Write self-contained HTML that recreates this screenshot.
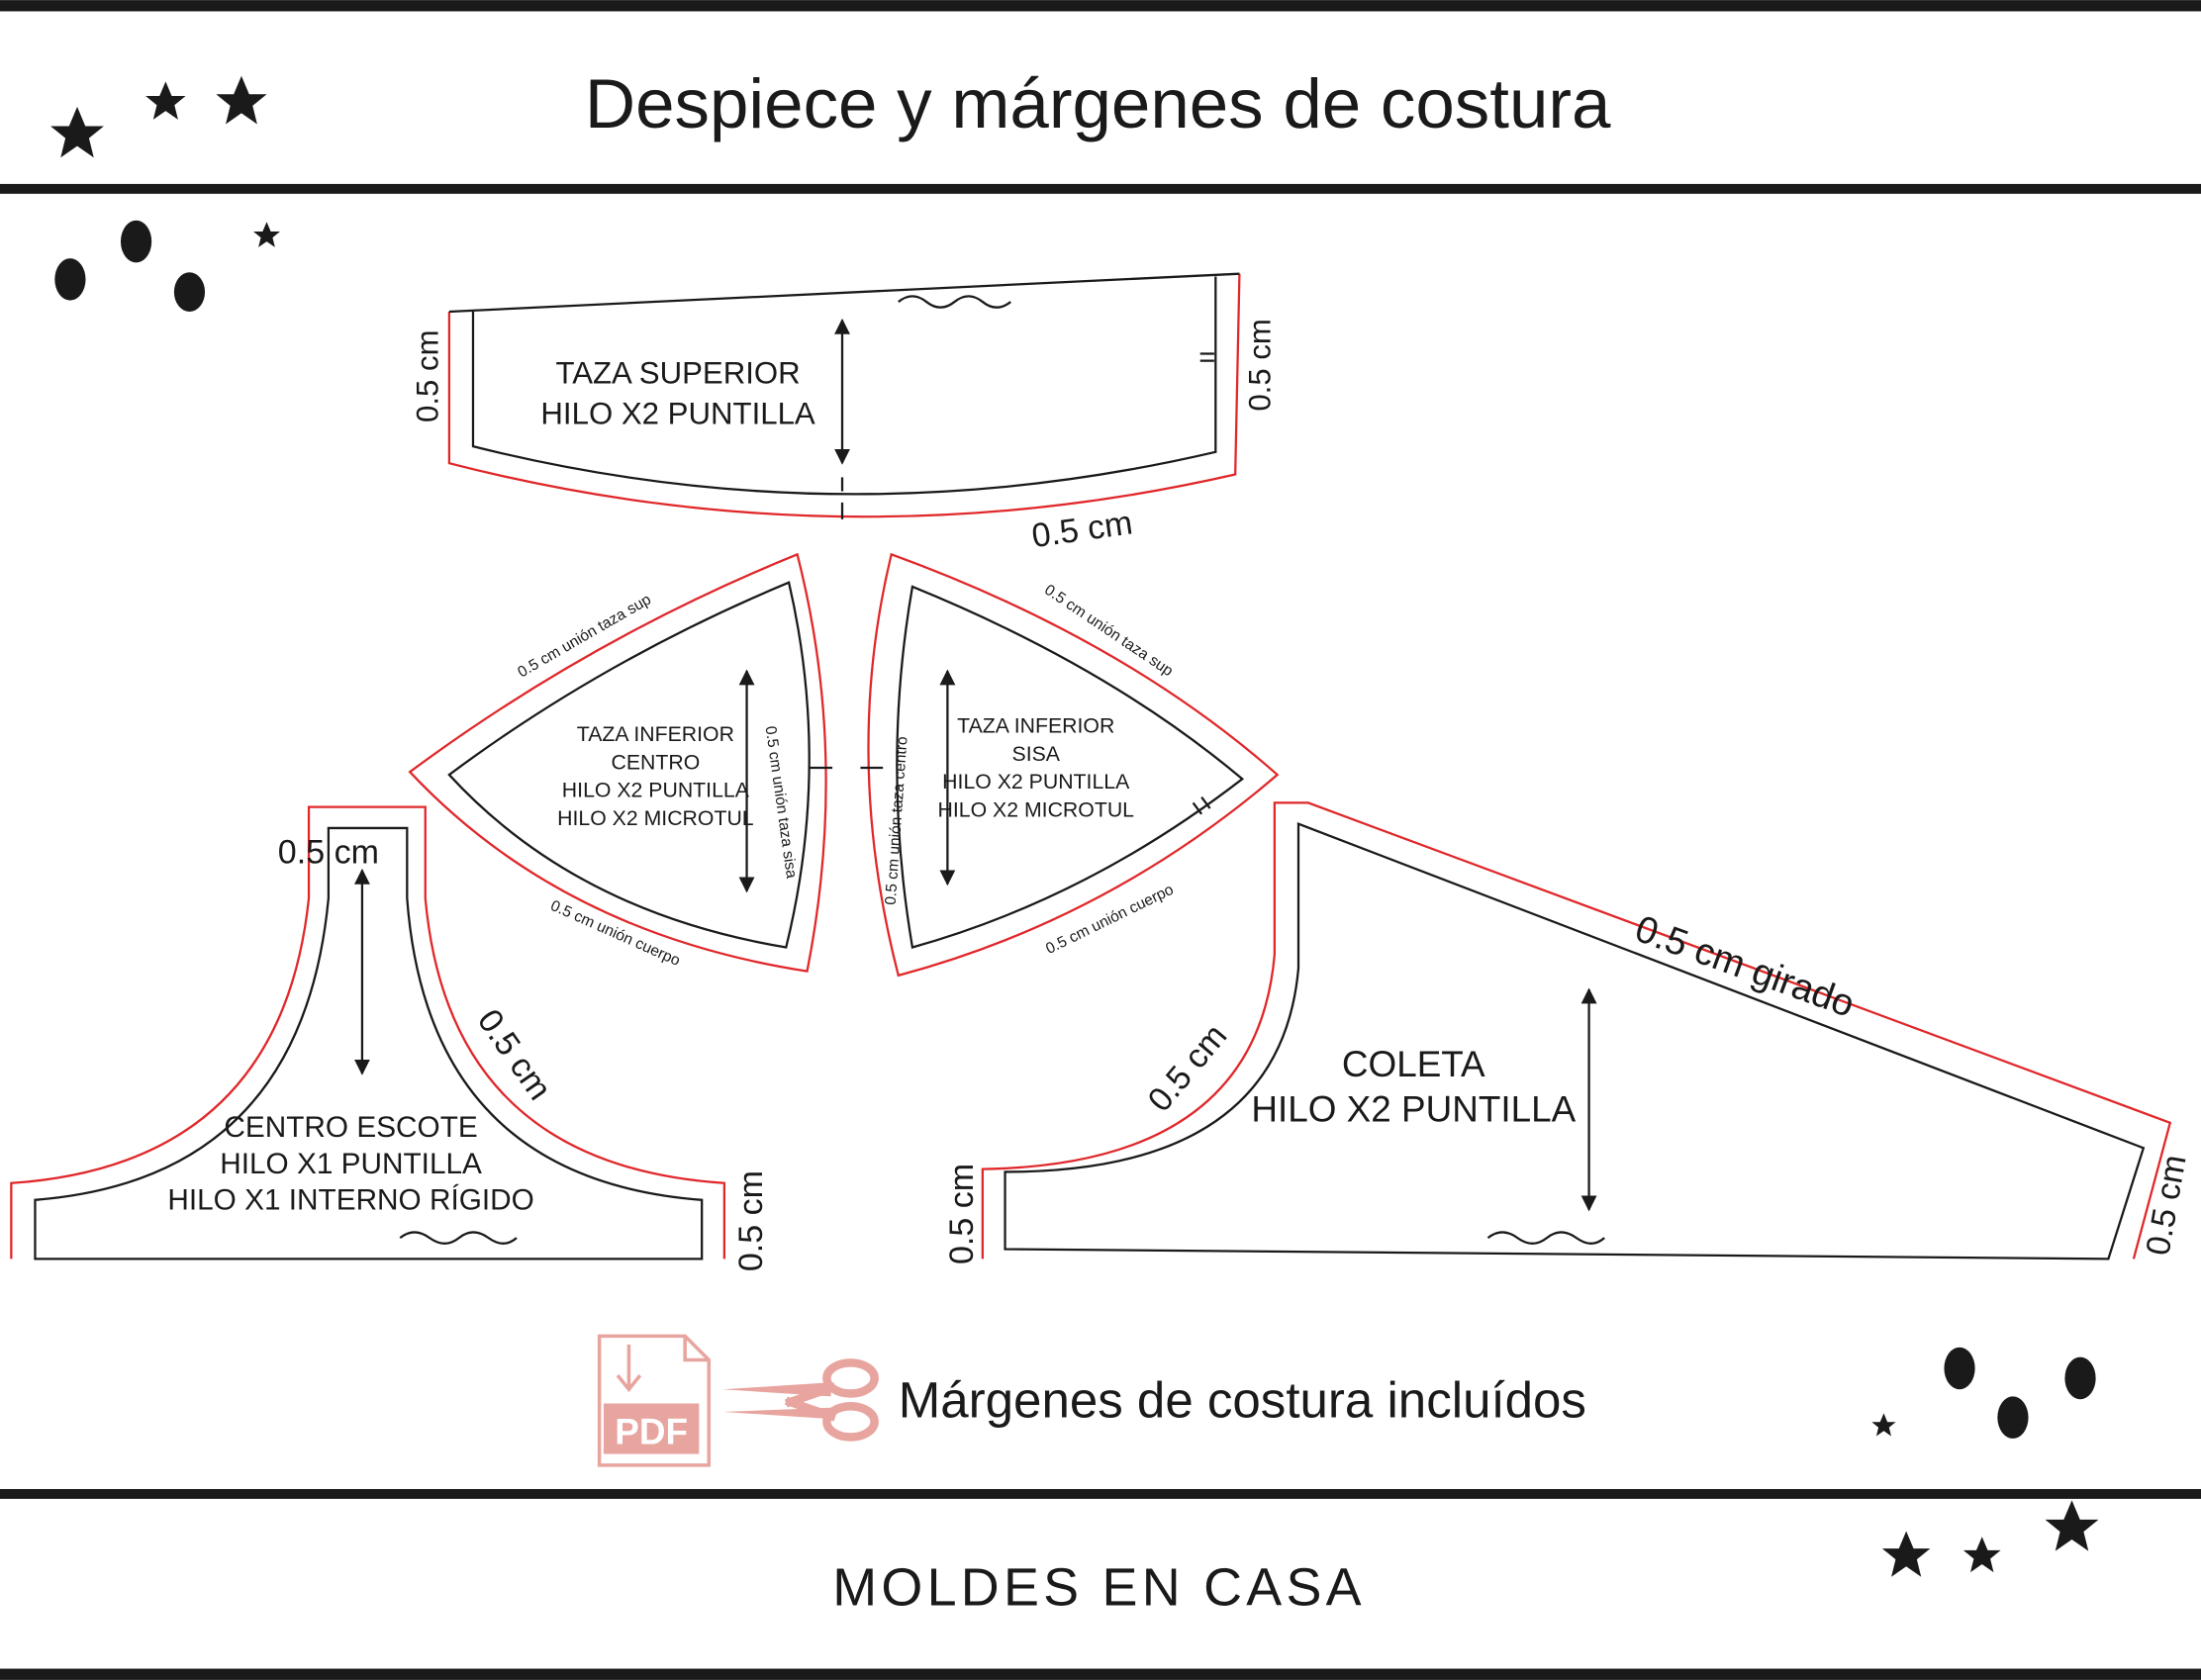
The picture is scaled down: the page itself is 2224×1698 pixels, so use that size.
<!DOCTYPE html>
<html><head><meta charset="utf-8"><style>
html,body{margin:0;padding:0;background:#fff}
svg{display:block}
text{font-family:"Liberation Sans","DejaVu Sans",sans-serif;fill:#1a1a1a}
</style></head><body>
<svg width="2224" height="1698" viewBox="0 0 1568 1197" xmlns="http://www.w3.org/2000/svg">
<defs>
<marker id="ar" viewBox="0 0 10 10" refX="9" refY="5" markerWidth="7" markerHeight="7" orient="auto-start-reverse"><path d="M0,0 L10,5 L0,10 z" fill="#1a1a1a"/></marker>
<path id="st" d="M0,-10 L2.9,-3.1 L9.5,-3.1 L4.2,1.2 L5.9,8.1 L0,4 L-5.9,8.1 L-4.2,1.2 L-9.5,-3.1 L-2.9,-3.1 Z" fill="#1a1a1a"/>
</defs>
<rect x="0" y="0" width="1568" height="8" fill="#1a1a1a"/>
<rect x="0" y="131" width="1568" height="7" fill="#1a1a1a"/>
<rect x="0" y="1061" width="1568" height="7" fill="#1a1a1a"/>
<rect x="0" y="1189" width="1568" height="8" fill="#1a1a1a"/>
<text x="782" y="91" font-size="50" text-anchor="middle">Despiece y márgenes de costura</text>
<use href="#st" transform="translate(55,96) scale(2)"/>
<use href="#st" transform="translate(118,73) scale(1.5)"/>
<use href="#st" transform="translate(172,73) scale(1.9)"/>
<use href="#st" transform="translate(190,168) scale(1)"/>
<ellipse cx="50" cy="199" rx="11" ry="15" fill="#1a1a1a"/>
<ellipse cx="97" cy="172" rx="11" ry="15" fill="#1a1a1a"/>
<ellipse cx="135" cy="208" rx="11" ry="14" fill="#1a1a1a"/>
<ellipse cx="1396" cy="975" rx="11" ry="15" fill="#1a1a1a"/>
<ellipse cx="1434" cy="1010" rx="11" ry="15" fill="#1a1a1a"/>
<ellipse cx="1482" cy="982" rx="11" ry="15" fill="#1a1a1a"/>
<use href="#st" transform="translate(1342,1016) scale(0.9)"/>
<use href="#st" transform="translate(1358,1109) scale(1.8)"/>
<use href="#st" transform="translate(1412,1109) scale(1.4)"/>
<use href="#st" transform="translate(1476,1089) scale(2)"/>

<g fill="none" stroke-width="1.6">
<!-- Taza superior -->
<path d="M320,222 L320,330 Q600,402 880,338 L883,195" stroke="#e0272a"/>
<path d="M320,222 L883,195" stroke="#1a1a1a"/>
<path d="M337,222 L337,318 Q600,384 866,322 L866,197" stroke="#1a1a1a"/>
<path d="M600,228 L600,330" stroke="#1a1a1a" marker-start="url(#ar)" marker-end="url(#ar)"/>
<path d="M640,215 q10,-8 20,0 t20,0 t20,0 t20,0" stroke="#1a1a1a"/>
<path d="M855,252 h10 M855,257 h10" stroke="#1a1a1a"/>
<path d="M600,340 v10 M600,358 v12" stroke="#1a1a1a"/>
<!-- Left triangle -->
<path d="M292,550 Q420,455 568,395 Q605,540 575,692 Q400,665 292,550 Z" stroke="#e0272a"/>
<path d="M320,552 Q430,470 562,415 Q592,545 560,675 Q410,650 320,552 Z" stroke="#1a1a1a"/>
<path d="M532,478 L532,635" stroke="#1a1a1a" marker-start="url(#ar)" marker-end="url(#ar)"/>
<path d="M577,547 h16" stroke="#1a1a1a"/>
<!-- Right triangle -->
<path d="M635,395 Q800,455 910,552 Q790,655 640,695 Q600,540 635,395 Z" stroke="#e0272a"/>
<path d="M650,418 Q790,475 885,555 Q775,640 650,675 Q628,545 650,418 Z" stroke="#1a1a1a"/>
<path d="M675,478 L675,630" stroke="#1a1a1a" marker-start="url(#ar)" marker-end="url(#ar)"/>
<path d="M613,547 h16" stroke="#1a1a1a"/>
<path d="M850,572 l6,8 M856,568 l6,8" stroke="#1a1a1a"/>
<!-- Centro escote -->
<path d="M8,897 L8,843 Q200,830 220,640 L220,575 L303,575 L303,640 Q320,830 516,843 L516,897" stroke="#e0272a"/>
<path d="M25,897 L25,855 Q215,840 234,640 L234,590 L290,590 L290,640 Q305,840 500,855 L500,897 Z" stroke="#1a1a1a"/>
<path d="M258,620 L258,765" stroke="#1a1a1a" marker-start="url(#ar)" marker-end="url(#ar)"/>
<path d="M285,882 q10,-8 21,0 t21,0 t21,0 t20,0" stroke="#1a1a1a"/>
<!-- Coleta -->
<path d="M700,897 L700,833 Q895,830 908,680 L908,572 L932,572 L1546,800 L1520,897" stroke="#e0272a"/>
<path d="M716,890 L716,835 Q912,835 925,690 L925,587 L1527,818 L1502,897 L716,890 Z" stroke="#1a1a1a"/>
<path d="M1132,705 L1132,862" stroke="#1a1a1a" marker-start="url(#ar)" marker-end="url(#ar)"/>
<path d="M1060,882 q10,-8 21,0 t21,0 t21,0 t20,0" stroke="#1a1a1a"/>
</g>

<g font-size="22" text-anchor="middle">
<text x="483" y="273">TAZA SUPERIOR</text>
<text x="483" y="302">HILO X2 PUNTILLA</text>
<text transform="translate(312,268) rotate(-90)">0.5 cm</text>
<text transform="translate(905,260) rotate(-90)">0.5 cm</text>
<text transform="translate(772,385) rotate(-8)" font-size="24">0.5 cm</text>
</g>
<g font-size="15" text-anchor="middle">
<text x="467" y="528">TAZA INFERIOR</text>
<text x="467" y="548">CENTRO</text>
<text x="467" y="568">HILO X2 PUNTILLA</text>
<text x="467" y="588">HILO X2 MICROTUL</text>
<text x="738" y="522">TAZA INFERIOR</text>
<text x="738" y="542">SISA</text>
<text x="738" y="562">HILO X2 PUNTILLA</text>
<text x="738" y="582">HILO X2 MICROTUL</text>
</g>
<g font-size="11" text-anchor="middle">
<text transform="translate(418,456) rotate(-30)">0.5 cm unión taza sup</text>
<text transform="translate(553,572) rotate(82)">0.5 cm unión taza sisa</text>
<text transform="translate(437,668) rotate(24)">0.5 cm unión cuerpo</text>
<text transform="translate(788,452) rotate(34)">0.5 cm unión taza sup</text>
<text transform="translate(642,585) rotate(-86)">0.5 cm unión taza centro</text>
<text transform="translate(792,658) rotate(-26)">0.5 cm unión cuerpo</text>
</g>
<g font-size="21" text-anchor="middle">
<text x="250" y="810">CENTRO ESCOTE</text>
<text x="250" y="836">HILO X1 PUNTILLA</text>
<text x="250" y="862">HILO X1 INTERNO RÍGIDO</text>
</g>
<g font-size="24" text-anchor="middle">
<text x="234" y="615">0.5 cm</text>
<text transform="translate(360,756) rotate(55)">0.5 cm</text>
<text transform="translate(543,870) rotate(-90)">0.5 cm</text>
<text x="1007" y="767" font-size="26">COLETA</text>
<text x="1007" y="799" font-size="26">HILO X2 PUNTILLA</text>
<text transform="translate(1240,697) rotate(20)" font-size="27">0.5 cm girado</text>
<text transform="translate(852,766) rotate(-50)">0.5 cm</text>
<text transform="translate(693,865) rotate(-90)">0.5 cm</text>
<text transform="translate(1551,860) rotate(-80)">0.5 cm</text>
</g>

<!-- PDF icon -->
<g stroke="#e8a59f" stroke-width="2.5" fill="none">
<path d="M427,952 L488,952 L505,969 L505,1044 L427,1044 Z"/>
<path d="M488,952 L488,969 L505,969"/>
<path d="M448,958 L448,988 M440,980 L448,990 L456,980"/>
</g>
<rect x="430" y="1000" width="68" height="36" fill="#e8a59f"/>
<text x="464" y="1029" font-size="26" font-weight="bold" text-anchor="middle" style="fill:#fff">PDF</text>
<!-- scissors -->
<g stroke="#e8a59f" stroke-width="6" fill="none">
<ellipse cx="606" cy="982" rx="17" ry="11"/>
<ellipse cx="606" cy="1013" rx="17" ry="11"/>
</g>
<path d="M515,990 L592,985 L592,995 Z M515,1006 L592,1003 L592,1011 Z" fill="#e8a59f"/>
<path d="M560,1000 L595,988 M560,998 L595,1010" stroke="#e8a59f" stroke-width="6"/>
<text x="640" y="1010" font-size="36">Márgenes de costura incluídos</text>
<text x="783" y="1144" font-size="38" text-anchor="middle" letter-spacing="3">MOLDES EN CASA</text>
</svg>
</body></html>
